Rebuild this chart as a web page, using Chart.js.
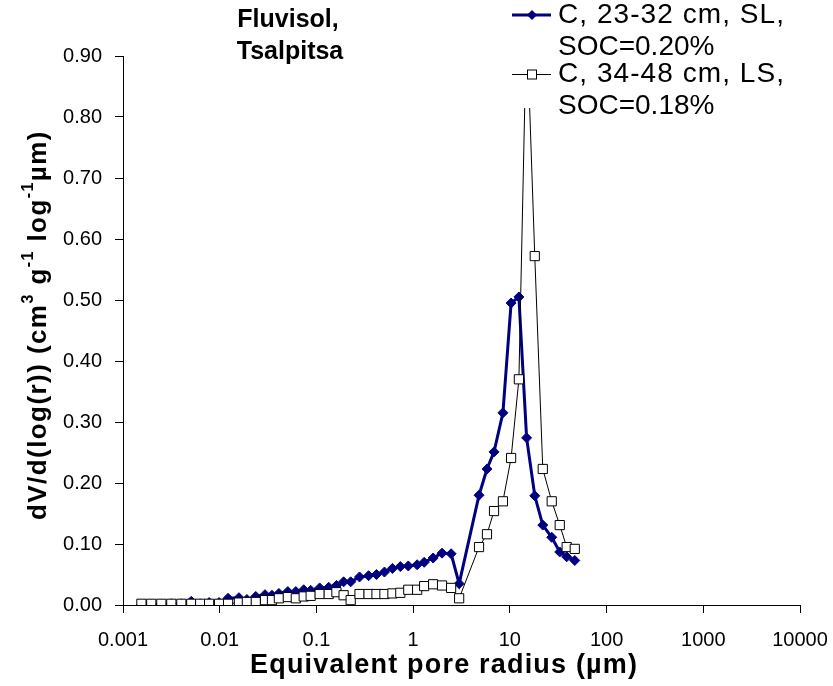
<!DOCTYPE html>
<html>
<head>
<meta charset="utf-8">
<script src="https://cdn.jsdelivr.net/npm/chart.js@4.4.1/dist/chart.umd.min.js"></script>
<style>
  html, body { margin: 0; padding: 0; background: #fff; }
  #wrap { width: 833px; height: 686px; }
</style>
</head>
<body>
<div id="wrap"><canvas id="c" width="833" height="686"></canvas></div>
<script>
// Equivalent pore radius (µm)
const poreRadius = [
  0.00155, 0.00196, 0.00249, 0.00316, 0.00401, 0.00508, 0.00628, 0.00777, 0.00985, 0.0122,
  0.0158, 0.0191, 0.0236, 0.0294, 0.0347, 0.0409, 0.0506, 0.0612, 0.0739, 0.0872,
  0.108, 0.134, 0.161, 0.191, 0.226, 0.279, 0.346, 0.418, 0.505, 0.611,
  0.737, 0.891, 1.10, 1.30, 1.61, 1.99, 2.47, 2.99,
  4.80, 5.80, 6.86, 8.48, 10.3, 12.4, 14.9, 18.1, 21.9, 27.1, 32.8, 38.7, 46.9
];
// C, 23-32 cm, SL, SOC=0.20%
const series1 = [
  0.000, 0.001, 0.001, 0.002, 0.002, 0.006, 0.002, 0.004, 0.004, 0.011,
  0.012, 0.009, 0.014, 0.017, 0.016, 0.019, 0.022, 0.022, 0.025, 0.024,
  0.028, 0.029, 0.032, 0.038, 0.038, 0.046, 0.048, 0.050, 0.054, 0.060,
  0.063, 0.064, 0.066, 0.070, 0.077, 0.085, 0.084, 0.035,
  0.180, 0.223, 0.251, 0.315, 0.495, 0.505, 0.274, 0.179, 0.131, 0.111, 0.087, 0.079, 0.073
];
// C, 34-48 cm, LS, SOC=0.18%
const series2 = [
  0.002, 0.002, 0.002, 0.002, 0.002, 0.002, 0.002, 0.002, 0.002, 0.002,
  0.004, 0.005, 0.005, 0.008, 0.008, 0.011, 0.013, 0.011, 0.014, 0.015,
  0.018, 0.018, 0.021, 0.016, 0.008, 0.018, 0.018, 0.018, 0.018, 0.019,
  0.020, 0.025, 0.025, 0.031, 0.034, 0.032, 0.028, 0.011,
  0.095, 0.116, 0.154, 0.170, 0.241, 0.370, 0.960, 0.572, 0.223, 0.170, 0.131, 0.095, 0.092
];
const seriesNames = [["C, 23-32 cm, SL,", "SOC=0.20%"], ["C, 34-48 cm, LS,", "SOC=0.18%"]];
const xTickValues = [0.001, 0.01, 0.1, 1, 10, 100, 1000, 10000];
const xTickLabels = ["0.001", "0.01", "0.1", "1", "10", "100", "1000", "10000"];
const yTickLabels = ["0.00", "0.10", "0.20", "0.30", "0.40", "0.50", "0.60", "0.70", "0.80", "0.90"];
const titleLines = ["Fluvisol,", "Tsalpitsa"];
const xTitle = "Equivalent pore radius (\u00B5m)";
const yTitleParts = [["dV/d(log(r)) (cm", false], ["3", true], [" g", false], ["-1", true], [" log", false], ["-1", true], ["\u00B5m)", false]];

const FONT = "'Liberation Sans', Arial, sans-serif";
const NAVY = "#000080";

const toPts = (ys) => poreRadius.map((x, i) => ({ x: x, y: ys[i] }));

function fitText(ctx, text, x, y, target) {
  const w = ctx.measureText(text).width;
  const n = Math.max(text.length - 1, 1);
  ctx.letterSpacing = Math.max((target - w) / n, 0).toFixed(2) + 'px';
  ctx.fillText(text, x, y);
  ctx.letterSpacing = '0px';
}

const textPlugin = {
  id: 'texts',
  afterDraw(chart) {
    const ctx = chart.ctx;
    ctx.save();
    // title
    ctx.fillStyle = '#000';
    ctx.textAlign = 'center';
    ctx.textBaseline = 'middle';
    ctx.font = "bold 25px " + FONT;
    ctx.fillText(titleLines[0], 288, 20);
    ctx.fillText(titleLines[1], 290, 52);
    // x title
    ctx.textAlign = 'left';
    ctx.font = "bold 27px " + FONT;
    fitText(ctx, xTitle, 250, 666, 387);
    // y title (rotated, with superscripts)
    ctx.save();
    ctx.translate(39, 325);
    ctx.rotate(-Math.PI / 2);
    const big = "bold 26px " + FONT, small = "bold 16px " + FONT;
    let total = 0;
    yTitleParts.forEach(([t, sup]) => { ctx.font = sup ? small : big; total += ctx.measureText(t).width; });
    const target = 390;
    const chars = yTitleParts.reduce((a, [t]) => a + t.length, 0);
    const ls = (target - total) / chars;
    let x = -target / 2;
    yTitleParts.forEach(([t, sup]) => {
      ctx.font = sup ? small : big;
      ctx.letterSpacing = ls.toFixed(2) + 'px';
      ctx.fillText(t, x, sup ? -10 : 0);
      x += ctx.measureText(t).width;
    });
    ctx.letterSpacing = '0px';
    ctx.restore();

    // legend: white box covering plot underneath
    ctx.fillStyle = '#fff';
    ctx.fillRect(500, 0, 333, 108);
    ctx.font = "28px " + FONT;
    ctx.fillStyle = '#000';
    const rows = [15, 74];
    // sample 1
    ctx.strokeStyle = NAVY; ctx.lineWidth = 3;
    ctx.beginPath(); ctx.moveTo(512, rows[0]); ctx.lineTo(551, rows[0]); ctx.stroke();
    ctx.fillStyle = NAVY;
    ctx.beginPath(); ctx.moveTo(532, rows[0] - 5); ctx.lineTo(537, rows[0]); ctx.lineTo(532, rows[0] + 5); ctx.lineTo(527, rows[0]); ctx.closePath(); ctx.fill();
    // sample 2
    ctx.strokeStyle = '#000'; ctx.lineWidth = 1;
    ctx.beginPath(); ctx.moveTo(512, rows[1] + 0.5); ctx.lineTo(551, rows[1] + 0.5); ctx.stroke();
    ctx.fillStyle = '#fff';
    ctx.fillRect(527.5, rows[1] - 4, 9, 9);
    ctx.strokeRect(527.5, rows[1] - 4, 9, 9);
    ctx.fillStyle = '#000';
    fitText(ctx, seriesNames[0][0], 558, 15, 226);
    fitText(ctx, seriesNames[0][1], 558, 47, 155);
    fitText(ctx, seriesNames[1][0], 558, 74, 226);
    fitText(ctx, seriesNames[1][1], 558, 106, 155);
    ctx.restore();
  }
};

new Chart(document.getElementById('c'), {
  type: 'line',
  data: {
    datasets: [
      {
        label: seriesNames[1].join(' '),
        data: toPts(series2),
        borderColor: '#000',
        borderWidth: 1,
        backgroundColor: '#fff',
        pointStyle: 'rect',
        pointRadius: 6.5,
        pointBorderWidth: 1,
        pointBorderColor: '#000',
        pointBackgroundColor: '#fff',
        tension: 0,
        order: 0
      },
      {
        label: seriesNames[0].join(' '),
        data: toPts(series1),
        borderColor: NAVY,
        borderWidth: 3,
        backgroundColor: NAVY,
        pointStyle: 'rectRot',
        pointRadius: 5,
        pointBorderWidth: 1,
        pointBorderColor: NAVY,
        pointBackgroundColor: NAVY,
        tension: 0,
        order: 1
      }
    ]
  },
  options: {
    responsive: false,
    animation: false,
    devicePixelRatio: 1,
    layout: { padding: { left: 0, right: 33, top: 56, bottom: 0 } },
    plugins: { legend: { display: false }, tooltip: { enabled: false }, title: { display: false } },
    scales: {
      x: {
        type: 'logarithmic',
        min: 0.001,
        max: 10000,
        afterFit(s) { s.height = 81; s.paddingLeft = 0; s.paddingRight = 0; },
        afterBuildTicks(s) { s.ticks = xTickValues.map(v => ({ value: v })); },
        ticks: {
          autoSkip: false,
          maxRotation: 0,
          padding: 15,
          color: '#000',
          font: { family: FONT, size: 20 },
          callback(v) { const i = xTickValues.indexOf(v); return i >= 0 ? xTickLabels[i] : ''; }
        },
        grid: { display: true, drawOnChartArea: false, drawTicks: true, tickLength: 8, color: '#000', tickWidth: 1 },
        border: { display: true, color: '#000', width: 1 }
      },
      y: {
        min: 0,
        max: 0.9,
        afterFit(s) { s.width = 123; s.paddingTop = 0; s.paddingBottom = 0; },
        ticks: {
          stepSize: 0.1,
          padding: 13,
          color: '#000',
          font: { family: FONT, size: 20 },
          callback(v) { return yTickLabels[Math.round(v * 10)]; }
        },
        grid: { display: true, drawOnChartArea: false, drawTicks: true, tickLength: 8, color: '#000', tickWidth: 1 },
        border: { display: true, color: '#000', width: 1 }
      }
    }
  },
  plugins: [textPlugin]
});
</script>
</body>
</html>
